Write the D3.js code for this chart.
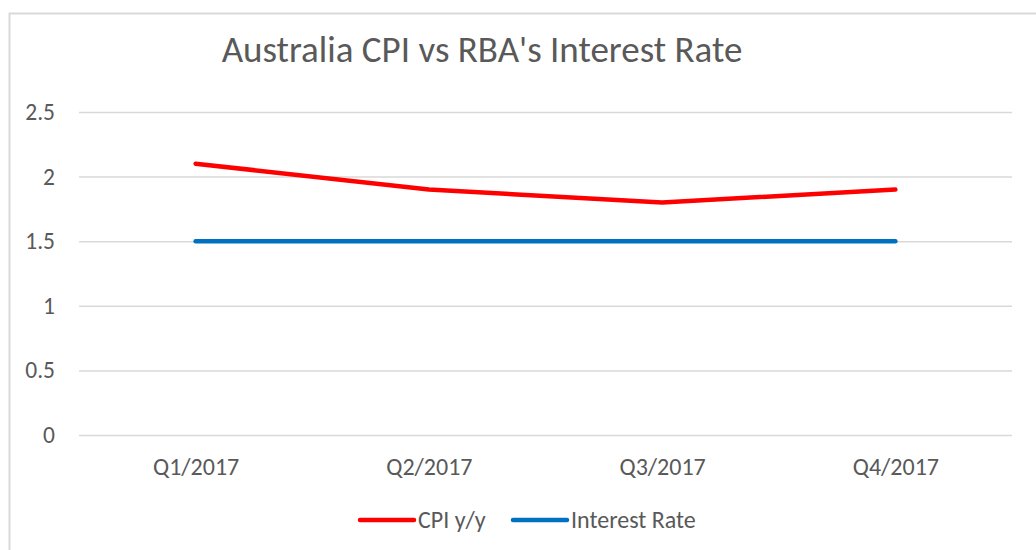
<!DOCTYPE html>
<html>
<head>
<meta charset="utf-8">
<script src="https://cdn.jsdelivr.net/npm/d3@7"></script>
<style>
  body { margin: 0; background: #fff; }
  text { font-family: Carlito, "Open Sans", "Noto Sans", sans-serif; fill: #595959; }
</style>
</head>
<body>
<div id="LineChart"></div>
<script>
const quarters = ['Q1/2017', 'Q2/2017', 'Q3/2017', 'Q4/2017'];
const cpiValues = [2.1, 1.9, 1.8, 1.9];
const rateValues = [1.5, 1.5, 1.5, 1.5];
const yTicks = [0, 0.5, 1, 1.5, 2, 2.5];

const series = [
  { name: 'CPI y/y', values: cpiValues, color: '#FF0000' },
  { name: 'Interest Rate', values: rateValues, color: '#0070C0' }
];

const width = 1036, height = 550;
const margin = { top: 112, right: 24, bottom: 115, left: 79 };

const svg = d3.select('#LineChart')
  .append('svg')
  .attr('width', width)
  .attr('height', height);

// chart frame (runs off the right and bottom in the original)
svg.append('rect')
  .attr('x', 9.5).attr('y', 13.5)
  .attr('width', 1040).attr('height', 560)
  .attr('fill', 'none')
  .attr('stroke', '#D9D9D9')
  .attr('stroke-width', 2);

const x = d3.scalePoint()
  .domain(quarters)
  .range([margin.left, width - margin.right])
  .padding(0.5);

const y = d3.scaleLinear()
  .domain([0, 2.5])
  .range([height - margin.bottom, margin.top]);

// gridlines
const yAxis = d3.axisLeft(y)
  .tickValues(yTicks)
  .tickSize(-(width - margin.right - margin.left))
  .tickPadding(24)
  .tickFormat(d3.format('~g'));

svg.append('g')
  .attr('transform', `translate(${margin.left},0)`)
  .call(yAxis)
  .call(g => g.select('.domain').remove())
  .call(g => g.selectAll('.tick line').attr('stroke', '#D9D9D9').attr('stroke-width', 1.5))
  .call(g => g.selectAll('.tick text').style('font-size', '23.5px'));

const xAxis = d3.axisBottom(x).tickSize(0).tickPadding(23);
svg.append('g')
  .attr('transform', `translate(0,${height - margin.bottom})`)
  .call(xAxis)
  .call(g => g.select('.domain').remove())
  .call(g => g.selectAll('.tick text').style('font-size', '24px'));

// lines
const line = d3.line()
  .x((d, i) => x(quarters[i]))
  .y(d => y(d));

svg.selectAll('.series')
  .data(series)
  .enter()
  .append('path')
  .attr('class', 'series')
  .attr('d', s => line(s.values))
  .attr('fill', 'none')
  .attr('stroke', s => s.color)
  .attr('stroke-width', 4.5)
  .attr('stroke-linecap', 'round')
  .attr('stroke-linejoin', 'round');

// title
svg.append('text')
  .attr('x', 482)
  .attr('y', 62)
  .attr('text-anchor', 'middle')
  .style('font-size', '37px')
  .text("Australia CPI vs RBA's Interest Rate");

// legend
const legendX = [360, 513];
const legend = svg.selectAll('.legend')
  .data(series)
  .enter()
  .append('g')
  .attr('class', 'legend')
  .attr('transform', (s, i) => `translate(${legendX[i]},520)`);

legend.append('line')
  .attr('x1', 0).attr('x2', 54)
  .attr('stroke', s => s.color)
  .attr('stroke-width', 4.5)
  .attr('stroke-linecap', 'round');

legend.append('text')
  .attr('x', 58)
  .attr('dy', '0.35em')
  .style('font-size', '24px')
  .text(s => s.name);
</script>
</body>
</html>
